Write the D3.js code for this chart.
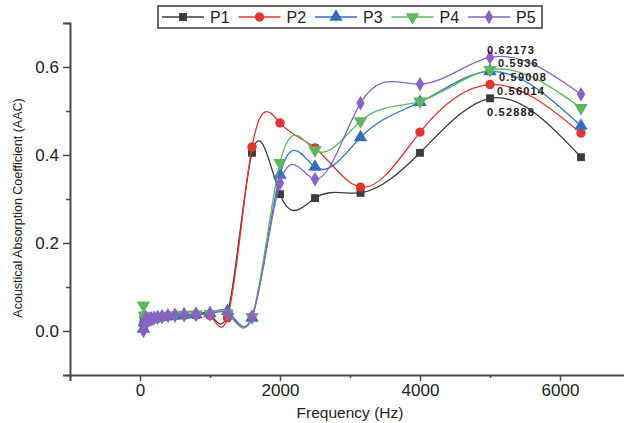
<!DOCTYPE html>
<html><head><meta charset="utf-8">
<script src="https://cdn.jsdelivr.net/npm/d3@7"></script>
<style>
html,body{margin:0;padding:0;background:#fff;}
svg{display:block;font-family:"Liberation Sans",Arial,sans-serif;}
</style></head>
<body><svg id="c" width="624" height="423"></svg>
<script>
// ---- data ----
const freqs = [50,63,80,100,125,160,200,250,315,400,500,630,800,1000,1250,1600,2000,2500,3150,4000,5000,6300];
const seriesNames = ["P1","P2","P3","P4","P5"];
const P1 = [0.035,0.025,0.020,0.025,0.028,0.026,0.028,0.030,0.032,0.033,0.035,0.036,0.037,0.038,0.040,0.405,0.311,0.302,0.314,0.405,0.52888,0.395];
const P2 = [0.015,0.030,0.025,0.020,0.025,0.028,0.030,0.030,0.032,0.034,0.035,0.036,0.036,0.035,0.030,0.418,0.473,0.416,0.327,0.452,0.56014,0.450];
const P3 = [0.005,0.020,0.030,0.022,0.025,0.027,0.028,0.030,0.032,0.034,0.035,0.037,0.038,0.040,0.045,0.030,0.355,0.373,0.440,0.520,0.59008,0.466];
const P4 = [0.058,0.035,0.028,0.025,0.027,0.028,0.030,0.031,0.033,0.035,0.036,0.037,0.038,0.039,0.040,0.032,0.382,0.411,0.477,0.522,0.5936,0.507];
const P5 = [0.000,0.015,0.030,0.020,0.025,0.028,0.030,0.031,0.033,0.035,0.036,0.037,0.038,0.039,0.040,0.032,0.336,0.345,0.518,0.561,0.62173,0.538];
const seriesValues = [P1,P2,P3,P4,P5];
const colors = ["#3c3c3c","#e3342f","#2f6fc0","#5cb85c","#8a62c4"];
const symbols = ["square","circle","triangle","triangleDown","diamond"];
const xMajorTicks = [0,2000,4000,6000];
const xMinorTicks = [-1000,1000,3000,5000];
const yMajorTicks = [0.0,0.2,0.4,0.6];
const yMinorTicks = [-0.1,0.1,0.3,0.5,0.7];
const labelFreq = 5000;
const labelTexts = ["0.52888","0.56014","0.59008","0.5936","0.62173"];
const labelOffsets = [[-3,18],[7,10],[9,10],[8,-3],[-3,-3]];

// ---- natural cubic spline curve (y as function of x) ----
function NaturalX(context){ this._context = context; }
NaturalX.prototype = {
  areaStart(){ this._line = 0; }, areaEnd(){ this._line = NaN; },
  lineStart(){ this._x = []; this._y = []; },
  point(x,y){ this._x.push(+x); this._y.push(+y); },
  lineEnd(){
    const x=this._x, y=this._y, n=x.length, c=this._context;
    if(!n) return;
    c.moveTo(x[0],y[0]);
    if(n===2){ c.lineTo(x[1],y[1]); return; }
    const h=[]; for(let i=0;i<n-1;i++) h.push(x[i+1]-x[i]);
    const a=new Array(n).fill(0), b=new Array(n).fill(0), cc=new Array(n).fill(0), r=new Array(n).fill(0);
    b[0]=1; b[n-1]=1;
    for(let i=1;i<n-1;i++){
      a[i]=h[i-1]; b[i]=2*(h[i-1]+h[i]); cc[i]=h[i];
      r[i]=6*((y[i+1]-y[i])/h[i]-(y[i]-y[i-1])/h[i-1]);
    }
    for(let i=1;i<n;i++){ const m=a[i]/b[i-1]; b[i]-=m*cc[i-1]; r[i]-=m*r[i-1]; }
    const M=new Array(n).fill(0);
    M[n-1]=r[n-1]/b[n-1];
    for(let i=n-2;i>=0;i--) M[i]=(r[i]-cc[i]*M[i+1])/b[i];
    for(let i=0;i<n-1;i++){
      const hi=h[i], d=(y[i+1]-y[i])/hi;
      const s0=d-hi*(2*M[i]+M[i+1])/6, s1=d+hi*(M[i]+2*M[i+1])/6;
      c.bezierCurveTo(x[i]+hi/3,y[i]+s0*hi/3,x[i+1]-hi/3,y[i+1]-s1*hi/3,x[i+1],y[i+1]);
    }
  }
};
const curveNaturalX = ctx => new NaturalX(ctx);

// ---- chart ----
const svg = d3.select("#c");
const x = d3.scaleLinear().domain([-1000,7000]).range([70,630]);
const y = d3.scaleLinear().domain([-0.1,0.7]).range([375,23]);
const axisColor = "#4a4a4a";

// axes
const gx = svg.append("g").attr("transform",`translate(0,${y(-0.1)})`)
  .call(d3.axisBottom(x).tickValues(xMajorTicks).tickSize(6).tickPadding(3).tickFormat(d3.format("d")));
const gxm = svg.append("g").attr("transform",`translate(0,${y(-0.1)})`)
  .call(d3.axisBottom(x).tickValues(xMinorTicks).tickSize(3).tickFormat(""));
const gy = svg.append("g").attr("transform",`translate(${x(-1000)},0)`)
  .call(d3.axisLeft(y).tickValues(yMajorTicks).tickSize(7).tickPadding(4).tickFormat(d3.format(".1f")));
const gym = svg.append("g").attr("transform",`translate(${x(-1000)},0)`)
  .call(d3.axisLeft(y).tickValues(yMinorTicks).tickSize(4).tickFormat(""));
[gx,gxm,gy,gym].forEach(g=>{
  g.selectAll(".domain").attr("stroke",axisColor).attr("stroke-width",2);
  g.selectAll(".tick line").attr("stroke",axisColor).attr("stroke-width",1.5);
  g.selectAll("text").attr("fill","#222").attr("font-size",17).attr("font-family","Liberation Sans, Arial, sans-serif");
});
gxm.select(".domain").remove(); gym.select(".domain").remove();

svg.append("text").attr("x",350).attr("y",418).attr("text-anchor","middle")
  .attr("font-size",15.5).attr("fill","#222").text("Frequency (Hz)");
svg.append("text").attr("transform",`translate(22,208) rotate(-90)`).attr("text-anchor","middle")
  .attr("font-size",12.5).attr("fill","#222").text("Acoustical Absorption Coefficient (AAC)");

// symbols
function sym(type, size){
  if(type==="square") return d3.symbol(d3.symbolSquare, size)();
  if(type==="circle") return d3.symbol(d3.symbolCircle, size)();
  if(type==="triangle" || type==="triangleDown") return d3.symbol(d3.symbolTriangle, size)();
  if(type==="diamond") return d3.symbol(d3.symbolDiamond, size*0.8)();
}
function symRot(type){ return type==="triangleDown" ? " rotate(180)" : ""; }
const symSize = [62,70,78,78,78];

const line = d3.line().x(d=>x(d[0])).y(d=>y(d[1])).curve(curveNaturalX);
seriesValues.forEach((vals,k)=>{
  const pts = freqs.map((f,i)=>[f,vals[i]]);
  const g = svg.append("g");
  g.append("path").attr("d",line(pts)).attr("fill","none").attr("stroke",colors[k]).attr("stroke-width",1.3);
  g.selectAll("path.m").data(pts).join("path").attr("class","m")
    .attr("d",sym(symbols[k],symSize[k]))
    .attr("transform",d=>`translate(${x(d[0])},${y(d[1])})${symRot(symbols[k])}`)
    .attr("fill",colors[k]);
});

// value labels at 5000 Hz
const li = freqs.indexOf(labelFreq);
seriesValues.forEach((vals,k)=>{
  svg.append("text").attr("x",x(labelFreq)+labelOffsets[k][0]).attr("y",y(vals[li])+labelOffsets[k][1])
    .attr("font-size",11).attr("font-weight","bold").attr("letter-spacing",1.2).attr("fill","#222")
    .text(labelTexts[k]);
});

// legend
const lg = svg.append("g");
lg.append("rect").attr("x",158).attr("y",6).attr("width",384).attr("height",22)
  .attr("fill","#fff").attr("stroke","#444").attr("stroke-width",1.6);
seriesNames.forEach((name,k)=>{
  const x0 = 162 + k*76.5;
  lg.append("line").attr("x1",x0).attr("x2",x0+42).attr("y1",17).attr("y2",17).attr("stroke",colors[k]).attr("stroke-width",1.3);
  lg.append("path").attr("d",sym(symbols[k],symSize[k])).attr("transform",`translate(${x0+21},17)${symRot(symbols[k])}`).attr("fill",colors[k]);
  lg.append("text").attr("x",x0+48).attr("y",23).attr("font-size",16).attr("fill","#222").text(name);
});
</script></body></html>
